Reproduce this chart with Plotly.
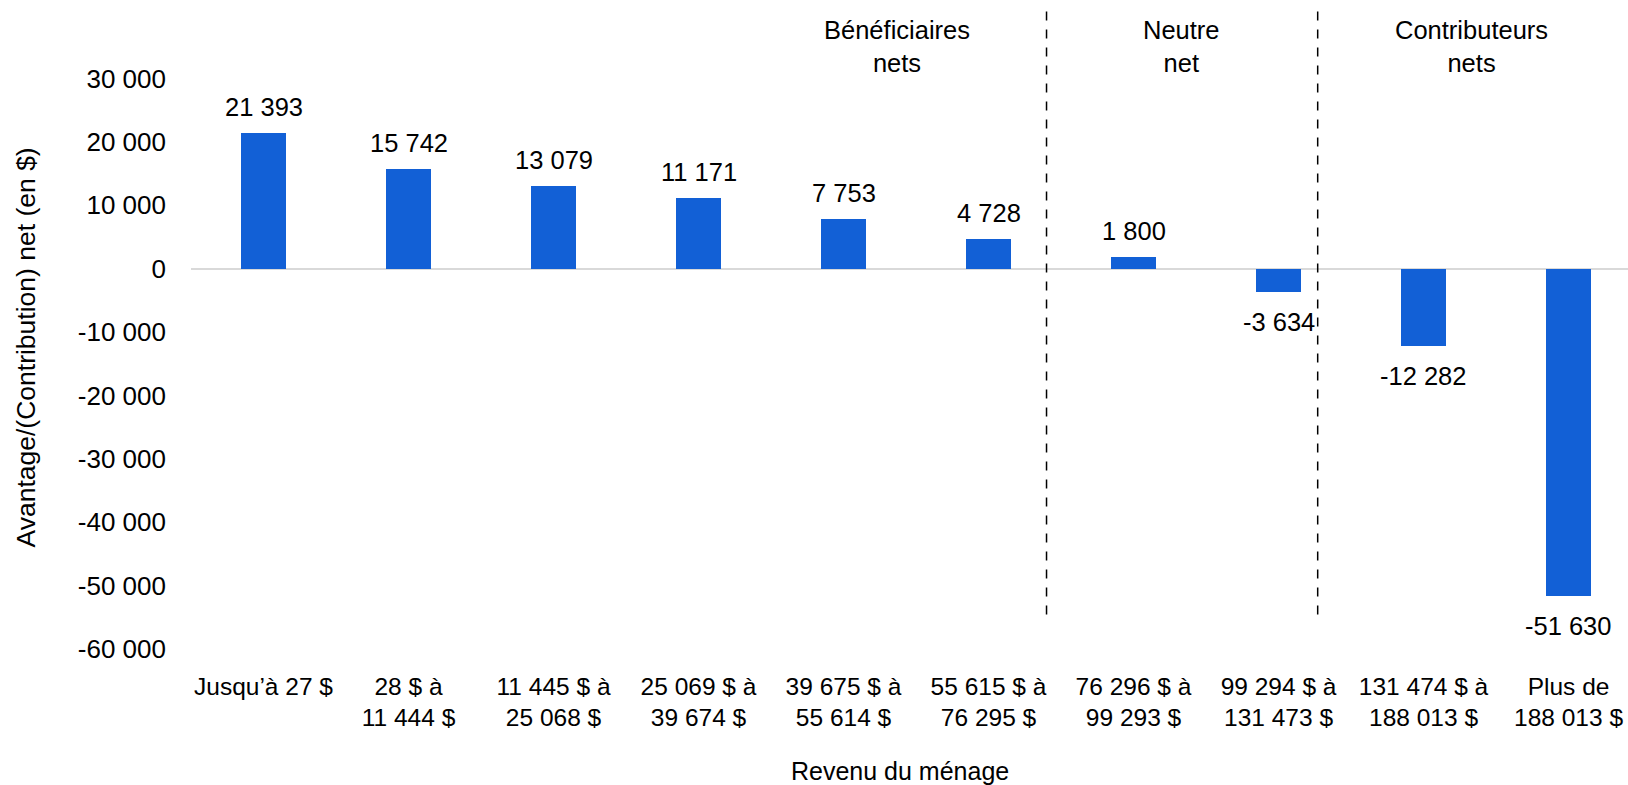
import plotly.graph_objects as go

categories = [
    "Jusqu’à 27 $", "28 $ à<br>11 444 $", "11 445 $ à<br>25 068 $", "25 069 $ à<br>39 674 $",
    "39 675 $ à<br>55 614 $", "55 615 $ à<br>76 295 $", "76 296 $ à<br>99 293 $",
    "99 294 $ à<br>131 473 $", "131 474 $ à<br>188 013 $", "Plus de<br>188 013 $",
]
values = [21393, 15742, 13079, 11171, 7753, 4728, 1800, -3634, -12282, -51630]
y_ticks = [30000, 20000, 10000, 0, -10000, -20000, -30000, -40000, -50000, -60000]
groups = ["Bénéficiaires<br>nets", "Neutre<br>net", "Contributeurs<br>nets"]
group_pos = [4.37, 6.33, 8.33]
dividers = [5.40, 7.27]

def fmt(v):
    s = f"{abs(v):,}".replace(",", " ")
    return ("-" if v < 0 else "") + s

FONT = "Liberation Sans, Arial, sans-serif"
BLUE = "#1260D6"

x_idx = list(range(len(categories)))

fig = go.Figure()
fig.add_trace(go.Bar(
    x=x_idx, y=values, width=0.31, marker=dict(color=BLUE, line=dict(width=0)),
    hoverinfo="skip",
))

annotations = []
for i, v in enumerate(values):
    annotations.append(dict(
        x=i, y=v, xref="x", yref="y", text=fmt(v), showarrow=False,
        yanchor="middle", yshift=26 if v >= 0 else -30,
        font=dict(family=FONT, size=25.5, color="black"),
    ))
for g, p in zip(groups, group_pos):
    annotations.append(dict(
        x=p, y=0.9504, xref="x", yref="paper", text=g, showarrow=False,
        yanchor="middle", xanchor="center",
        font=dict(family=FONT, size=25.5, color="black"),
    ))
annotations.append(dict(
    x=0.4934, y=-0.192, xref="paper", yref="paper", text="Revenu du ménage",
    showarrow=False, yanchor="middle", xanchor="center",
    font=dict(family=FONT, size=25, color="black"),
))
annotations.append(dict(
    x=-0.1148, y=0.4756, xref="paper", yref="paper", text="Avantage/(Contribution) net (en $)",
    showarrow=False, textangle=-90, yanchor="middle", xanchor="center",
    font=dict(family=FONT, size=26.5, color="black"),
))

shapes = []
for d in dividers:
    shapes.append(dict(
        type="line", xref="x", yref="paper", x0=d, x1=d, y0=0.0543, y1=1.0102,
        line=dict(color="black", width=1.5, dash="dash"),
    ))

fig.update_layout(
    width=1628, height=785,
    margin=dict(l=191, r=0, t=14.5, b=135.5, autoexpand=False),
    paper_bgcolor="white", plot_bgcolor="white",
    showlegend=False,
    font=dict(family=FONT, size=25, color="black"),
    annotations=annotations, shapes=shapes,
    bargap=0,
)
fig.update_xaxes(
    range=[-0.5, 9.41], tickmode="array", tickvals=x_idx, ticktext=categories,
    showgrid=False, showline=False, zeroline=False, ticks="", ticklabelstandoff=20,
    automargin=False,
    tickfont=dict(family=FONT, size=24.5, color="black"),
)
fig.update_yaxes(
    range=[-60000, 40000], tickmode="array", tickvals=y_ticks,
    ticktext=[fmt(t) for t in y_ticks],
    showgrid=False, showline=False, zeroline=True, zerolinecolor="#D9D9D9", zerolinewidth=2,
    ticks="", ticklabelstandoff=24, automargin=False,
    tickfont=dict(family=FONT, size=26, color="black"),
)

fig.write_html(
    "out.html",
    config={"displayModeBar": False},
    post_script="document.body.style.margin='0px';document.body.style.overflow='hidden';",
)
